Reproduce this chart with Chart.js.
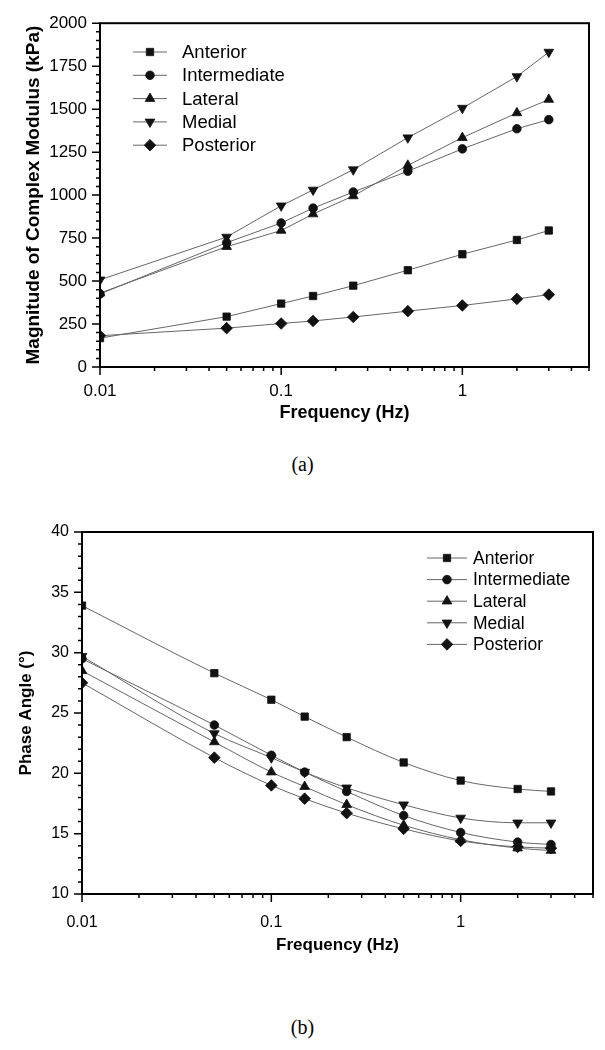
<!DOCTYPE html>
<html>
<head>
<meta charset="utf-8">
<script src="https://cdn.jsdelivr.net/npm/chart.js@4.4.1/dist/chart.umd.min.js"></script>
<style>
html, body { margin: 0; padding: 0; background: #fff; }
body { width: 605px; height: 1050px; position: relative; overflow: hidden; }
.box { position: absolute; left: 0; width: 605px; }
#boxA { top: 0; height: 440px; }
#boxB { top: 500px; height: 500px; }
.cap { position: absolute; left: 0; width: 605px; text-align: center; font-family: "Liberation Serif", serif; font-size: 20px; line-height: 23px; color: #000; }
</style>
</head>
<body>
<div class="box" id="boxA"><canvas id="chartA" width="605" height="440"></canvas></div>
<div class="box" id="boxB"><canvas id="chartB" width="605" height="500"></canvas></div>
<div class="cap" style="top:453px">(a)</div>
<div class="cap" style="top:1016px">(b)</div>
<script>
// Data
const freq = [0.01, 0.05, 0.1, 0.15, 0.25, 0.5, 1, 2, 3];
const seriesNames = ['Anterior', 'Intermediate', 'Lateral', 'Medial', 'Posterior'];

// (a) magnitude of complex modulus, kPa
const modAnterior     = [168, 293, 369, 413, 473, 563, 656, 739, 794];
const modIntermediate = [425, 723, 838, 924, 1018, 1139, 1269, 1386, 1439];
const modLateral      = [430, 700, 794, 890, 995, 1173, 1334, 1478, 1556];
const modMedial       = [507, 756, 938, 1030, 1148, 1334, 1506, 1690, 1832];
const modPosterior    = [182, 226, 253, 268, 291, 325, 358, 396, 421];

// (b) phase angle, degrees
const phAnterior     = [33.9, 28.3, 26.1, 24.7, 23.0, 20.9, 19.4, 18.7, 18.5];
const phIntermediate = [29.5, 24.0, 21.5, 20.1, 18.5, 16.5, 15.1, 14.3, 14.1];
const phLateral      = [28.5, 22.6, 20.1, 18.9, 17.4, 15.7, 14.5, 13.8, 13.6];
const phMedial       = [29.7, 23.3, 21.3, 20.1, 18.8, 17.4, 16.3, 15.9, 15.9];
const phPosterior    = [27.5, 21.3, 19.0, 17.9, 16.7, 15.4, 14.4, 13.9, 13.8];

// Tick labels
const xTickValues = [0.01, 0.1, 1];
const xTickLabels = ['0.01', '0.1', '1'];
const modTicks = [0, 250, 500, 750, 1000, 1250, 1500, 1750, 2000];
const phTicks = [10, 15, 20, 25, 30, 35, 40];

// Marker looks, same order as seriesNames
const markers = [
    { style: 'rect', rot: 0, r: 5.2 },
    { style: 'circle', rot: 0, r: 4.3 },
    { style: 'triangle', rot: 0, r: 5.6 },
    { style: 'triangle', rot: 180, r: 5.6 },
    { style: 'rectRot', rot: 0, r: 5.8 }
];

const sans = '"Liberation Sans", Arial, sans-serif';

// Box frame plus outward tick marks (major and minor)
const framePlugin = {
    id: 'frame',
    afterDraw(chart, args, o) {
        const { ctx, chartArea: a, scales: { x, y } } = chart;
        ctx.save();
        ctx.strokeStyle = '#000';
        ctx.lineWidth = 2;
        ctx.strokeRect(a.left, a.top, a.right - a.left, a.bottom - a.top);

        ctx.lineWidth = 1.5;
        ctx.beginPath();
        x.ticks.forEach(t => {
            const px = x.getPixelForValue(t.value);
            ctx.moveTo(px, a.bottom); ctx.lineTo(px, a.bottom + o.major);
        });
        // log minor ticks 2..9 in each decade
        xTickValues.forEach(d => {
            for (let k = 2; k <= 9; k++) {
                const v = k * d;
                if (v > x.max + 1e-9) break;
                const px = x.getPixelForValue(v);
                ctx.moveTo(px, a.bottom); ctx.lineTo(px, a.bottom + o.minor);
            }
        });
        y.ticks.forEach(t => {
            const py = y.getPixelForValue(t.value);
            ctx.moveTo(a.left, py); ctx.lineTo(a.left - o.major, py);
        });
        for (let v = y.min + o.yMinorStep; v < y.max; v += o.yMinorStep) {
            const py = y.getPixelForValue(v);
            ctx.moveTo(a.left, py); ctx.lineTo(a.left - o.minor, py);
        }
        ctx.stroke();
        ctx.restore();
    }
};

// Legend drawn as "—marker— label" rows inside the plot
const legendPlugin = {
    id: 'boxLegend',
    afterDraw(chart, args, o) {
        const ctx = chart.ctx;
        chart.data.datasets.forEach((ds, i) => {
            const cy = o.top + i * o.rowGap;
            ctx.save();
            ctx.strokeStyle = ds.borderColor;
            ctx.lineWidth = 1;
            ctx.beginPath();
            ctx.moveTo(o.left, cy);
            ctx.lineTo(o.left + o.lineLen, cy);
            ctx.stroke();
            ctx.fillStyle = ds.pointBackgroundColor;
            ctx.strokeStyle = ds.pointBorderColor;
            ctx.lineWidth = ds.pointBorderWidth;
            Chart.helpers.drawPoint(ctx, {
                pointStyle: ds.pointStyle,
                radius: ds.pointRadius,
                rotation: ds.pointRotation,
                borderWidth: ds.pointBorderWidth
            }, o.left + o.lineLen / 2, cy);
            ctx.fillStyle = '#000';
            ctx.font = o.font;
            ctx.textBaseline = 'middle';
            ctx.textAlign = 'left';
            ctx.fillText(ds.label, o.left + o.lineLen + o.gap, cy + 1);
            ctx.restore();
        });
    }
};

function buildDatasets(seriesList, smooth) {
    return seriesList.map((vals, i) => ({
        label: seriesNames[i],
        data: freq.map((f, j) => ({ x: f, y: vals[j] })),
        borderColor: '#666',
        borderWidth: 1,
        backgroundColor: '#111',
        pointBackgroundColor: '#111',
        pointBorderColor: '#111',
        pointBorderWidth: 0.8,
        pointStyle: markers[i].style,
        pointRotation: markers[i].rot,
        pointRadius: markers[i].r,
        cubicInterpolationMode: smooth ? 'monotone' : 'default',
        tension: 0
    }));
}

function makeChart(id, c) {
    return new Chart(document.getElementById(id), {
        type: 'line',
        data: { datasets: c.datasets },
        plugins: [framePlugin, legendPlugin],
        options: {
            responsive: false,
            animation: false,
            devicePixelRatio: 1,
            layout: { padding: c.padding },
            plugins: {
                legend: { display: false },
                tooltip: { enabled: false },
                frame: { major: 8, minor: 4, yMinorStep: c.yMinorStep },
                boxLegend: c.legend
            },
            scales: {
                x: {
                    type: 'logarithmic',
                    min: 0.01,
                    max: 5,
                    grid: { display: false, drawTicks: false },
                    border: { display: false },
                    afterBuildTicks: s => { s.ticks = xTickValues.map(v => ({ value: v })); },
                    afterFit: s => { s.height = c.xHeight; },
                    ticks: {
                        autoSkip: false,
                        maxRotation: 0,
                        color: '#000',
                        padding: c.xTickPad,
                        font: { family: sans, size: c.tickSize },
                        callback: (v, i) => xTickLabels[i]
                    },
                    title: {
                        display: true,
                        text: 'Frequency (Hz)',
                        color: '#000',
                        padding: 0,
                        font: { family: sans, size: c.xTitleSize, weight: 'bold' }
                    }
                },
                y: {
                    type: 'linear',
                    min: c.yTicks[0],
                    max: c.yTicks[c.yTicks.length - 1],
                    grid: { display: false, drawTicks: false },
                    border: { display: false },
                    afterBuildTicks: s => { s.ticks = c.yTicks.map(v => ({ value: v })); },
                    afterFit: s => { s.width = c.yWidth; },
                    ticks: {
                        color: '#000',
                        padding: 13,
                        font: { family: sans, size: c.tickSize },
                        callback: v => String(v)
                    },
                    title: {
                        display: true,
                        text: c.yTitle,
                        color: '#000',
                        padding: { top: c.yTitlePad, bottom: 0 },
                        font: { family: sans, size: c.yTitleSize, weight: 'bold' }
                    }
                }
            }
        }
    });
}

makeChart('chartA', {
    datasets: buildDatasets([modAnterior, modIntermediate, modLateral, modMedial, modPosterior], false),
    padding: { top: 19, right: 16, bottom: 16, left: 0 },
    yTicks: modTicks,
    yMinorStep: 50,
    yWidth: 100,
    xHeight: 57,
    xTickPad: 14,
    tickSize: 17,
    xTitleSize: 18,
    yTitle: 'Magnitude of Complex Modulus (kPa)',
    yTitleSize: 19,
    yTitlePad: 22,
    legend: { left: 133, top: 52, rowGap: 23.3, lineLen: 34, gap: 15, font: '18.5px ' + sans }
});

makeChart('chartB', {
    datasets: buildDatasets([phAnterior, phIntermediate, phLateral, phMedial, phPosterior], true),
    padding: { top: 32, right: 12, bottom: 44, left: 0 },
    yTicks: phTicks,
    yMinorStep: 1,
    yWidth: 82,
    xHeight: 62,
    xTickPad: 19,
    tickSize: 16,
    xTitleSize: 17,
    yTitle: 'Phase Angle (°)',
    yTitleSize: 17,
    yTitlePad: 16,
    legend: { left: 427, top: 58, rowGap: 21.6, lineLen: 40, gap: 6, font: '17.5px ' + sans }
});
</script>
</body>
</html>
